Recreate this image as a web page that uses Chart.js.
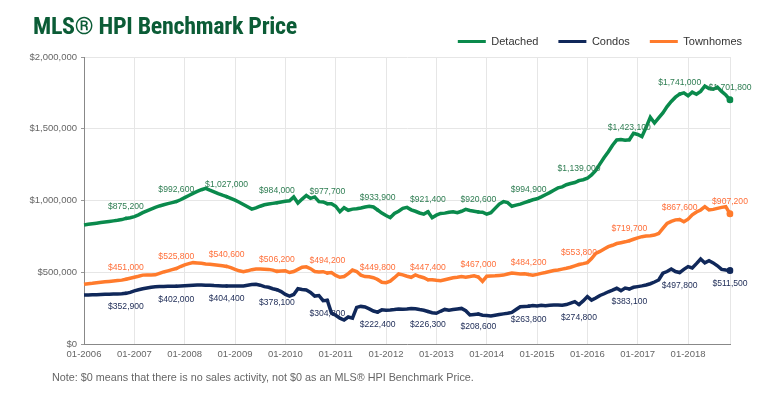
<!DOCTYPE html>
<html>
<head>
<meta charset="utf-8">
<script src="https://cdn.jsdelivr.net/npm/chart.js@4.4.1/dist/chart.umd.min.js"></script>
<style>
    html, body { margin: 0; padding: 0; background: #fff; }
    #wrap { position: relative; width: 783px; height: 397px; overflow: hidden; }
    #title {
        position: absolute; left: 33px; top: 12px;
        font: bold 24px 'Liberation Sans Narrow', 'Roboto Condensed', 'Liberation Sans', sans-serif;
        color: #0b5c36; letter-spacing: -0.3px;
    }
    #note {
        position: absolute; left: 52px; top: 371px;
        font: 10.8px 'Liberation Sans', Arial, sans-serif; color: #666;
    }
</style>
</head>
<body>
<div id="wrap">
    <canvas id="hpiChart" width="783" height="397"></canvas>
    <div id="title">MLS® HPI Benchmark Price</div>
    <div id="note">Note: $0 means that there is no sales activity, not $0 as an MLS® HPI Benchmark Price.</div>
</div>
<script>
// monthly, 01-2006 .. 11-2018, values in thousands of dollars
var startYear = 2006;
var monthCount = 155;

var detached = [
    830, 834, 838, 842, 846, 850, 854, 858, 862, 867, 875.2, 880,
    888, 900, 915, 928, 940, 952, 962, 970, 978, 985, 992.6, 1005,
    1020, 1035, 1050, 1063, 1075, 1085, 1072, 1060, 1048, 1037, 1027, 1015,
    1002, 988, 972, 956, 940, 948, 960, 970, 976, 980, 984, 990,
    995, 998, 1025, 982, 1010, 1035, 1015, 1025, 992, 990, 977.7, 978,
    960, 922, 950, 932, 940, 942, 948, 955, 960, 955, 933.9, 912,
    895, 880, 910, 925, 945, 952, 935, 925, 913, 905, 921.4, 880,
    898, 910, 912, 918, 922, 915, 925, 938, 930, 925, 920.6, 918,
    905, 915, 945, 975, 992, 985, 960, 968, 975, 985, 994.9, 1005,
    1012, 1025, 1040, 1055, 1072, 1088, 1095, 1110, 1118, 1125, 1139, 1145,
    1155, 1178, 1210, 1255, 1300, 1340, 1385, 1422, 1425, 1420, 1423.1, 1468,
    1460, 1445, 1510, 1580, 1540, 1575, 1610, 1654, 1690, 1720, 1741, 1750,
    1730, 1755, 1740, 1760, 1798, 1780, 1775, 1790, 1760, 1735, 1701.8
];

var condos = [
    341, 342, 343, 344, 345, 346, 347, 348, 349, 350, 352.9, 360,
    370, 378, 385, 390, 395, 399, 400, 401, 402, 402, 402, 404,
    406, 408, 410, 411, 411, 410, 409, 407, 406, 405, 404.4, 404,
    404, 404, 405, 410, 414, 416, 410, 400, 395, 385, 378.1, 365,
    345, 334, 345, 385, 380, 376, 360, 334, 338, 302, 304.8, 215,
    200, 180, 167, 188, 180, 255, 262, 258, 245, 230, 222.4, 238,
    236, 237, 240, 244, 242, 244, 248, 246, 240, 235, 226.3, 218,
    214, 228, 241, 236, 240, 244, 248, 232, 202, 205, 208.6, 200,
    198, 195, 200, 205, 210, 214, 220, 240, 260, 262, 263.8, 268,
    265, 270, 266, 270, 272, 272, 270, 275, 285, 295, 274.8, 300,
    330, 306, 320, 338, 350, 364, 375, 388, 372, 390, 383.1, 395,
    400, 405, 411, 420, 432, 446, 493, 505, 523, 505, 497.8, 520,
    539, 530, 560, 592, 565, 580, 565, 545, 520, 515, 511.5
];

var townhomes = [
    416, 420, 423, 427, 430, 433, 436, 439, 442, 445, 451, 458,
    465, 472, 480, 481, 481, 482, 492, 502, 510, 518, 525.8, 540,
    552, 560, 567, 565, 562, 558, 555, 552, 549, 545, 540.6, 532,
    520, 510, 504, 510, 518, 522, 522, 521, 520, 515, 506.2, 508,
    510, 498, 505, 520, 535, 538, 525, 505, 502, 504, 494.2, 498,
    478, 465, 470, 490, 515, 505, 480, 470, 468, 462, 449.8, 430,
    427, 438, 462, 488, 482, 472, 465, 481, 470, 462, 447.4, 448,
    444, 441, 448, 455, 462, 465, 470, 466, 470, 475, 467, 437,
    472, 474, 475, 478, 480, 488, 495, 492, 488, 490, 484.2, 480,
    485, 492, 498, 505, 512, 516, 522, 528, 535, 545, 553.8, 560,
    567, 595, 632, 645, 662, 678, 688, 700, 706, 712, 719.7, 730,
    740, 748, 752, 755, 759, 770, 805, 841, 855, 865, 867.6, 852,
    870, 900, 920, 934, 957, 934, 938, 945, 952, 957, 907.2
];

// November of each year carries a value label
var labelIdx = [10, 22, 34, 46, 58, 70, 82, 94, 106, 118, 130, 142, 154];
var yTicks = [0, 500000, 1000000, 1500000, 2000000];

var labels = [];
for (var i = 0; i < monthCount; i++) {
    var m = (i % 12) + 1;
    labels.push((m < 10 ? '0' + m : '' + m) + '-' + (startYear + Math.floor(i / 12)));
}

function toDollars(arr) {
    return arr.map(function (v) { return Math.round(v * 1000); });
}
function fmt(v) {
    return '$' + v.toLocaleString('en-US');
}

var FONT = "'Liberation Sans', Arial, Helvetica, sans-serif";

function pointRadius(ctx) {
    if (ctx.dataIndex === monthCount - 1) return 3.5;
    return labelIdx.indexOf(ctx.dataIndex) >= 0 ? 1.8 : 0;
}

var valueLabels = {
    id: 'valueLabels',
    afterDatasetsDraw: function (chart) {
        var ctx = chart.ctx;
        ctx.save();
        ctx.font = '8.6px ' + FONT;
        ctx.textAlign = 'center';
        ctx.textBaseline = 'middle';
        chart.data.datasets.forEach(function (ds, di) {
            var meta = chart.getDatasetMeta(di);
            ctx.fillStyle = ds.labelColor;
            labelIdx.forEach(function (idx) {
                var pt = meta.data[idx];
                if (!pt) return;
                ctx.fillText(fmt(ds.data[idx]), pt.x, pt.y + ds.labelOffset);
            });
        });
        ctx.restore();
    }
};

// keep the legend row compact so the plot starts where the original does
var legendHeight = {
    id: 'legendHeight',
    beforeLayout: function (chart) {
        var lg = chart.legend;
        if (lg && !lg._patched) {
            var fit = lg.fit.bind(lg);
            lg.fit = function () { fit(); this.height = 41; };
            lg._patched = true;
        }
    }
};

var ctx = document.getElementById('hpiChart').getContext('2d');
new Chart(ctx, {
    type: 'line',
    data: {
        labels: labels,
        datasets: [
            {
                label: 'Detached',
                data: toDollars(detached),
                borderColor: '#0a8a4c',
                backgroundColor: '#0a8a4c',
                labelColor: '#2e7d52',
                labelOffset: -12,
                borderWidth: 3.5,
                pointRadius: pointRadius,
                pointBorderWidth: 0,
                pointHoverRadius: 0,
                tension: 0,
                fill: false
            },
            {
                label: 'Condos',
                data: toDollars(condos),
                borderColor: '#10285a',
                backgroundColor: '#10285a',
                labelColor: '#1c2a55',
                labelOffset: 13,
                borderWidth: 3.5,
                pointRadius: pointRadius,
                pointBorderWidth: 0,
                pointHoverRadius: 0,
                tension: 0,
                fill: false
            },
            {
                label: 'Townhomes',
                data: toDollars(townhomes),
                borderColor: '#ff7b2c',
                backgroundColor: '#ff7b2c',
                labelColor: '#ff6f3a',
                labelOffset: -12,
                borderWidth: 3.5,
                pointRadius: pointRadius,
                pointBorderWidth: 0,
                pointHoverRadius: 0,
                tension: 0,
                fill: false
            }
        ]
    },
    options: {
        responsive: false,
        animation: false,
        layout: { padding: { left: 20, right: 21, top: 16, bottom: 33 } },
        plugins: {
            tooltip: { enabled: false },
            legend: {
                display: true,
                position: 'top',
                align: 'end',
                labels: {
                    boxWidth: 28,
                    boxHeight: 3,
                    padding: 20,
                    color: '#333',
                    font: { family: FONT, size: 11 },
                    generateLabels: function (chart) {
                        var items = Chart.defaults.plugins.legend.labels.generateLabels(chart);
                        items.forEach(function (it) { it.lineWidth = 0; });
                        return items;
                    }
                }
            }
        },
        scales: {
            x: {
                type: 'category',
                offset: false,
                grid: {
                    color: function (c) {
                        return (c.index % 12 === 0 || c.index === monthCount - 1) ? '#e6e6e6' : 'rgba(0,0,0,0)';
                    },
                    drawTicks: false
                },
                border: { color: '#888', width: 1 },
                ticks: {
                    autoSkip: false,
                    maxRotation: 0,
                    padding: 5,
                    color: '#666',
                    font: { family: FONT, size: 9.5 },
                    callback: function (val, idx) {
                        return idx % 12 === 0 ? labels[idx] : '';
                    }
                },
                afterFit: function (s) { s.height = 20; }
            },
            y: {
                min: 0,
                max: 2000000,
                afterBuildTicks: function (s) {
                    s.ticks = yTicks.map(function (v) { return { value: v }; });
                },
                grid: { color: '#e6e6e6', tickColor: '#999', tickLength: 3 },
                border: { color: '#888', width: 1 },
                ticks: {
                    color: '#666',
                    padding: 4,
                    font: { family: FONT, size: 9.5 },
                    callback: function (v) { return fmt(v); }
                },
                afterFit: function (s) { s.width = 64; }
            },
            yRight: {
                position: 'right',
                display: true,
                grid: { display: false },
                border: { display: false },
                ticks: { display: false },
                afterFit: function (s) { s.width = 32; }
            }
        }
    },
    plugins: [valueLabels, legendHeight]
});
</script>
</body>
</html>
